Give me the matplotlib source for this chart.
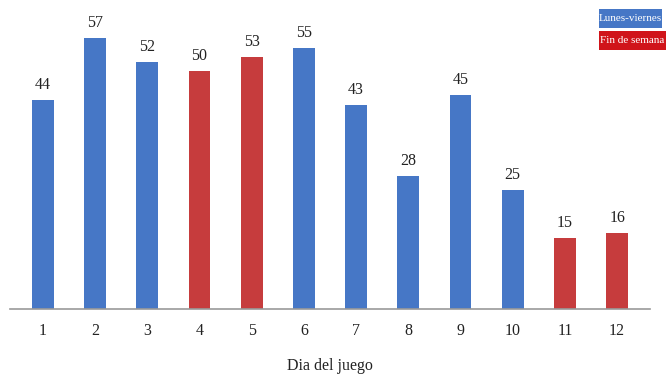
import matplotlib
matplotlib.use("Agg")
import matplotlib.pyplot as plt
from matplotlib.patches import Rectangle

days = [1, 2, 3, 4, 5, 6, 7, 8, 9, 10, 11, 12]
visits = [44, 57, 52, 50, 53, 55, 43, 28, 45, 25, 15, 16]
day_type = ["weekday", "weekday", "weekday", "weekend", "weekend", "weekday",
            "weekday", "weekday", "weekday", "weekday", "weekend", "weekend"]
legend_labels = ["Lunes-viernes", "Fin de semana"]
x_label = "Dia del juego"

blue = "#4677C6"
red = "#C63C3D"
colors = [blue if t == "weekday" else red for t in day_type]

plt.rcParams["font.family"] = ["Liberation Serif", "DejaVu Serif"]

W, H = 667, 385
fig = plt.figure(figsize=(W / 100, H / 100), dpi=100)
ax = fig.add_axes([10 / W, 1 - 309 / H, 640 / W, 309 / H])

bars = ax.bar(days, visits, width=0.42, color=colors, zorder=2)
for d, v in zip(days, visits):
    ax.annotate(str(v), (d, v), xytext=(0, 5), textcoords="offset points",
                ha="center", va="bottom", fontsize=11.5, color="#222222")

ax.set_xlim(0.37, 12.63)
ax.set_ylim(0, 65)
ax.set_xticks(days)
ax.set_xticklabels([str(d) for d in days], fontsize=11.5, color="#222222")
ax.tick_params(axis="x", length=0, pad=10)
ax.set_yticks([])
for s in ["top", "right", "left"]:
    ax.spines[s].set_visible(False)
ax.spines["bottom"].set_color("#999999")
ax.spines["bottom"].set_linewidth(1.2)
ax.set_xlabel(x_label, fontsize=11.5, color="#222222", labelpad=14)

# Legend drawn as coloured label boxes (pixel geometry converted to figure fraction)
def label_box(x0, y0, x1, y1, color, text):
    fig.patches.append(Rectangle((x0 / W, 1 - y1 / H), (x1 - x0) / W, (y1 - y0) / H,
                                 transform=fig.transFigure, fc=color, ec="none"))
    fig.text((x0 + x1) / 2 / W, 1 - (y0 + y1) / 2 / H, text, ha="center",
             va="center", fontsize=8.0, color="white")

label_box(599, 9, 662, 28, blue, legend_labels[0])
label_box(599, 31, 666, 50, "#D0141A", legend_labels[1])

fig.savefig("out.png", dpi=100)
